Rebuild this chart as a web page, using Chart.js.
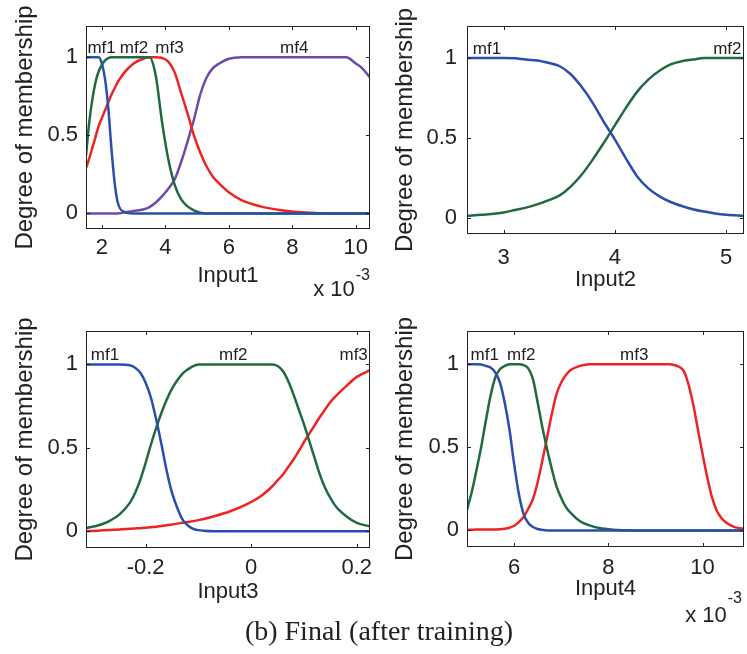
<!DOCTYPE html>
<html lang="en">
<head>
  <meta charset="UTF-8" />
  <title>Membership functions - final (after training)</title>
  <script src="https://cdn.jsdelivr.net/npm/chart.js"></script>
  <style>
    body {
      margin: 0;
      background: #fff;
    }
    #fig {
      position: relative;
      width: 747px;
      height: 654px;
      background: #fff;
    }
    #fig canvas {
      position: absolute;
    }
    #caption {
      position: absolute;
      left: 0;
      top: 617px;
      width: 758px;
      text-align: center;
      font-family: 'Liberation Serif', 'Times New Roman', serif;
      font-size: 28px;
      line-height: 28px;
      color: #222;
    }
  </style>
</head>
<body>
  <div id="fig">
    <canvas id="c1" width="380" height="300" style="left:0;top:0"></canvas>
    <canvas id="c2" width="367" height="300" style="left:380px;top:0"></canvas>
    <canvas id="c3" width="380" height="320" style="left:0;top:305px"></canvas>
    <canvas id="c4" width="367" height="320" style="left:380px;top:305px"></canvas>
    <div id="caption">(b) Final (after training)</div>
  </div>

  <script>
    // Input1 (x 10^-3)
    const in1X   = [1.5, 1.6, 1.7, 1.8, 1.9, 2.0, 2.1, 2.2, 2.3, 2.4, 2.5, 2.7, 3.0, 3.3, 3.5, 3.7, 3.9, 4.1, 4.3, 4.5, 4.7, 4.9, 5.1, 5.3, 5.5, 5.7, 6.0, 6.4, 7.0, 7.6, 8.4, 9.0, 9.7, 10.0, 10.2, 10.45];
    const in1Mf1 = [1, 1, 1, 1, 1, 0.96, 0.86, 0.68, 0.42, 0.2, 0.07, 0.01, 0, 0, 0, 0, 0, 0, 0, 0, 0, 0, 0, 0, 0, 0, 0, 0, 0, 0, 0, 0, 0, 0, 0, 0];
    const in1Mf2 = [0.37, 0.58, 0.73, 0.84, 0.91, 0.95, 0.98, 0.995, 1, 1, 1, 1, 1, 1, 1, 0.88, 0.58, 0.34, 0.18, 0.09, 0.045, 0.02, 0.005, 0, 0, 0, 0, 0, 0, 0, 0, 0, 0, 0, 0, 0];
    const in1Mf3 = [0.29, 0.35, 0.42, 0.49, 0.56, 0.61, 0.66, 0.71, 0.76, 0.8, 0.84, 0.9, 0.96, 0.99, 1, 1, 0.995, 0.97, 0.9, 0.77, 0.64, 0.5, 0.39, 0.3, 0.235, 0.19, 0.135, 0.085, 0.045, 0.022, 0.005, 0, 0, 0, 0, 0];
    const in1Mf4 = [0, 0, 0, 0, 0, 0, 0, 0, 0, 0, 0, 0.005, 0.015, 0.025, 0.04, 0.07, 0.11, 0.16, 0.22, 0.33, 0.46, 0.6, 0.76, 0.87, 0.93, 0.96, 0.99, 1, 1, 1, 1, 1, 1, 0.96, 0.93, 0.87];
    const in1Ticks = [2, 4, 6, 8, 10];
    const in1Names = ['mf1', 'mf2', 'mf3', 'mf4'];
    const in1NameX = [1.99, 3.01, 4.13, 8.06];

    // Input2
    const in2X   = [2.67, 2.8, 3.0, 3.1, 3.2, 3.3, 3.4, 3.5, 3.6, 3.7, 3.8, 3.9, 4.0, 4.1, 4.2, 4.3, 4.4, 4.5, 4.6, 4.7, 4.8, 4.9, 5.0, 5.16];
    const in2Mf1 = [1, 1, 1, 0.998, 0.99, 0.985, 0.97, 0.95, 0.9, 0.82, 0.72, 0.6, 0.49, 0.37, 0.26, 0.185, 0.135, 0.1, 0.075, 0.055, 0.04, 0.028, 0.02, 0.013];
    const in2Mf2 = [0.013, 0.02, 0.035, 0.05, 0.065, 0.085, 0.11, 0.14, 0.195, 0.27, 0.365, 0.47, 0.58, 0.69, 0.79, 0.865, 0.92, 0.96, 0.98, 0.99, 1, 1, 1, 1];
    const in2Ticks = [3, 4, 5];
    const in2Names = ['mf1', 'mf2'];
    const in2NameX = [2.85, 5.01];

    // Input3
    const in3X   = [-0.313, -0.29, -0.27, -0.25, -0.23, -0.22, -0.21, -0.2, -0.19, -0.18, -0.17, -0.16, -0.15, -0.14, -0.13, -0.12, -0.11, -0.1, -0.09, -0.07, -0.04, -0.01, 0.02, 0.04, 0.05, 0.06, 0.07, 0.08, 0.09, 0.1, 0.11, 0.12, 0.13, 0.14, 0.15, 0.16, 0.18, 0.2, 0.225];
    const in3Mf1 = [1, 1, 1, 1, 0.995, 0.98, 0.95, 0.89, 0.8, 0.67, 0.52, 0.36, 0.23, 0.14, 0.07, 0.035, 0.015, 0.007, 0.003, 0, 0, 0, 0, 0, 0, 0, 0, 0, 0, 0, 0, 0, 0, 0, 0, 0, 0, 0, 0];
    const in3Mf2 = [0.02, 0.035, 0.06, 0.1, 0.17, 0.23, 0.31, 0.41, 0.52, 0.62, 0.71, 0.79, 0.855, 0.905, 0.945, 0.97, 0.99, 1, 1, 1, 1, 1, 1, 1, 0.99, 0.96, 0.9, 0.82, 0.73, 0.64, 0.54, 0.44, 0.34, 0.26, 0.2, 0.15, 0.09, 0.05, 0.03];
    const in3Mf3 = [0, 0.004, 0.008, 0.011, 0.015, 0.017, 0.019, 0.022, 0.025, 0.028, 0.032, 0.036, 0.041, 0.046, 0.051, 0.056, 0.061, 0.067, 0.074, 0.09, 0.12, 0.16, 0.215, 0.27, 0.305, 0.34, 0.385, 0.43, 0.48, 0.535, 0.585, 0.635, 0.685, 0.73, 0.775, 0.81, 0.87, 0.925, 0.965];
    const in3Ticks = [-0.2, 0, 0.2];
    const in3Names = ['mf1', 'mf2', 'mf3'];
    const in3NameX = [-0.277, -0.034, 0.194];

    // Input4 (x 10^-3)
    const in4X   = [5.0, 5.1, 5.2, 5.3, 5.4, 5.5, 5.6, 5.7, 5.8, 5.9, 6.0, 6.1, 6.2, 6.3, 6.4, 6.5, 6.6, 6.7, 6.8, 6.9, 7.0, 7.1, 7.2, 7.4, 7.6, 7.8, 8.1, 8.5, 9.0, 9.3, 9.4, 9.5, 9.6, 9.7, 9.8, 9.9, 10.0, 10.1, 10.2, 10.3, 10.4, 10.5, 10.6, 10.7, 10.9];
    const in4Mf1 = [1, 1, 1, 0.998, 0.99, 0.98, 0.95, 0.89, 0.77, 0.61, 0.4, 0.22, 0.1, 0.045, 0.02, 0.008, 0.003, 0, 0, 0, 0, 0, 0, 0, 0, 0, 0, 0, 0, 0, 0, 0, 0, 0, 0, 0, 0, 0, 0, 0, 0, 0, 0, 0, 0];
    const in4Mf2 = [0.125, 0.23, 0.36, 0.5, 0.66, 0.81, 0.92, 0.97, 0.99, 1, 1, 1, 0.995, 0.975, 0.91, 0.77, 0.62, 0.49, 0.37, 0.265, 0.195, 0.14, 0.105, 0.055, 0.03, 0.014, 0.004, 0, 0, 0, 0, 0, 0, 0, 0, 0, 0, 0, 0, 0, 0, 0, 0, 0, 0];
    const in4Mf3 = [0.003, 0.004, 0.005, 0.005, 0.005, 0.006, 0.006, 0.007, 0.01, 0.016, 0.028, 0.05, 0.08, 0.13, 0.19, 0.29, 0.42, 0.56, 0.7, 0.82, 0.89, 0.935, 0.965, 0.99, 1, 1, 1, 1, 1, 1, 0.995, 0.985, 0.96, 0.88, 0.76, 0.61, 0.46, 0.32, 0.2, 0.12, 0.075, 0.047, 0.03, 0.018, 0.01];
    const in4Ticks = [6, 8, 10];
    const in4Names = ['mf1', 'mf2', 'mf3'];
    const in4NameX = [5.375, 6.15, 8.55];

    const yTicks = [0, 0.5, 1];

    const BLUE = '#2b4ead', GREEN = '#1f6b3f', RED = '#ee2424', PURPLE = '#6f4aab';
    const INK = '#222';
    const SANS = "'Liberation Sans', Arial, sans-serif";

    Chart.defaults.font.family = SANS;

    // layout of each panel (canvas-local pixels)
    const panels = {
      c1: { x: in1X, series: [in1Mf1, in1Mf2, in1Mf3, in1Mf4], colors: [BLUE, GREEN, RED, PURPLE],
            xMin: 1.5, xMax: 10.45, ticks: in1Ticks, names: in1Names, nameX: in1NameX, title: 'Input1',
            padRight: 10, yAxisW: 86, xAxisH: 71, xTickPad: 6, yTickPad: 8, titlePad: 10.6,
            exp: { supDy: 51, mainDy: 67, dx: 0 } },
      c2: { x: in2X, series: [in2Mf1, in2Mf2], colors: [BLUE, GREEN],
            xMin: 2.67, xMax: 5.16, ticks: in2Ticks, names: in2Names, nameX: in2NameX, title: 'Input2',
            padRight: 3, yAxisW: 87, xAxisH: 66, xTickPad: 11, yTickPad: 10, titlePad: 6.6, exp: null },
      c3: { x: in3X, series: [in3Mf1, in3Mf2, in3Mf3], colors: [BLUE, GREEN, RED],
            xMin: -0.313, xMax: 0.225, ticks: in3Ticks, names: in3Names, nameX: in3NameX, title: 'Input3',
            padRight: 10, yAxisW: 86, xAxisH: 77, xTickPad: 7, yTickPad: 8, titlePad: 19.6, exp: null },
      c4: { x: in4X, series: [in4Mf1, in4Mf2, in4Mf3], colors: [BLUE, GREEN, RED],
            xMin: 5.0, xMax: 10.88, ticks: in4Ticks, names: in4Names, nameX: in4NameX, title: 'Input4',
            padRight: 3, yAxisW: 87, xAxisH: 78, xTickPad: 8, yTickPad: 8, titlePad: 22.6,
            exp: { supDy: 56, mainDy: 75, dx: -2 } }
    };

    // MATLAB style box, inner ticks, y title, mf names and the x10^-3 factor
    const matlabAxes = {
      id: 'matlabAxes',
      afterDraw(chart) {
        const c = panels[chart.canvas.id];
        const ctx = chart.ctx;
        const a = chart.chartArea;
        const sx = chart.scales.x, sy = chart.scales.y;

        ctx.save();
        ctx.strokeStyle = INK;
        ctx.lineWidth = 1;
        ctx.strokeRect(a.left + 0.5, a.top + 0.5, a.right - a.left - 1, a.bottom - a.top - 1);

        ctx.beginPath();
        c.ticks.forEach(v => {
          const px = Math.round(sx.getPixelForValue(v)) + 0.5;
          ctx.moveTo(px, a.bottom); ctx.lineTo(px, a.bottom - 4);
          ctx.moveTo(px, a.top); ctx.lineTo(px, a.top + 4);
        });
        yTicks.forEach(v => {
          const py = Math.round(sy.getPixelForValue(v)) + 0.5;
          ctx.moveTo(a.left, py); ctx.lineTo(a.left + 4, py);
          ctx.moveTo(a.right, py); ctx.lineTo(a.right - 4, py);
        });
        ctx.stroke();

        ctx.fillStyle = INK;

        // y axis title
        ctx.save();
        ctx.font = '24px ' + SANS;
        ctx.textAlign = 'center';
        ctx.textBaseline = 'middle';
        ctx.translate(25.5, (a.top + a.bottom) / 2);
        ctx.rotate(-Math.PI / 2);
        ctx.fillText('Degree of membership', 0, 0);
        ctx.restore();

        // membership function names
        ctx.font = '17px ' + SANS;
        ctx.textAlign = 'center';
        ctx.textBaseline = 'alphabetic';
        const ny = sy.getPixelForValue(1.025);
        c.names.forEach((n, i) => ctx.fillText(n, sx.getPixelForValue(c.nameX[i]), ny));

        // x 10^-3
        if (c.exp) {
          ctx.textAlign = 'right';
          ctx.font = '16px ' + SANS;
          const r = a.right + c.exp.dx;
          ctx.fillText('-3', r, a.bottom + c.exp.supDy);
          const w = ctx.measureText('-3').width;
          ctx.font = '22px ' + SANS;
          ctx.fillText('x 10', r - w - 1, a.bottom + c.exp.mainDy);
        }
        ctx.restore();
      }
    };

    Object.keys(panels).forEach(id => {
      const c = panels[id];
      const datasets = c.series.map((ys, i) => ({
        data: c.x.map((x, j) => ({ x: x, y: ys[j] })),
        borderColor: c.colors[i],
        borderWidth: 2.5,
        pointRadius: 0,
        fill: false,
        cubicInterpolationMode: 'monotone'
      }));

      new Chart(document.getElementById(id), {
        type: 'line',
        data: { datasets: datasets },
        options: {
          responsive: false,
          animation: false,
          layout: { padding: { top: 26, right: c.padRight, left: 0, bottom: 0 } },
          plugins: {
            legend: { display: false },
            tooltip: { enabled: false }
          },
          scales: {
            x: {
              type: 'linear',
              min: c.xMin,
              max: c.xMax,
              grid: { display: false, drawTicks: false },
              border: { display: false },
              afterBuildTicks: s => { s.ticks = c.ticks.map(v => ({ value: v })); },
              afterFit: s => { s.height = c.xAxisH; },
              ticks: {
                padding: c.xTickPad,
                color: INK,
                font: { size: 22 },
                autoSkip: false,
                maxRotation: 0,
                callback: v => String(v)
              },
              title: {
                display: true,
                text: c.title,
                color: INK,
                font: { size: 22 },
                padding: { top: 0, bottom: c.titlePad }
              }
            },
            y: {
              type: 'linear',
              min: -0.1,
              max: 1.2,
              grid: { display: false, drawTicks: false },
              border: { display: false },
              afterBuildTicks: s => { s.ticks = yTicks.map(v => ({ value: v })); },
              afterFit: s => { s.width = c.yAxisW; },
              ticks: {
                padding: c.yTickPad,
                color: INK,
                font: { size: 22 },
                callback: v => String(v)
              }
            }
          }
        },
        plugins: [matlabAxes]
      });
    });
  </script>
</body>
</html>
